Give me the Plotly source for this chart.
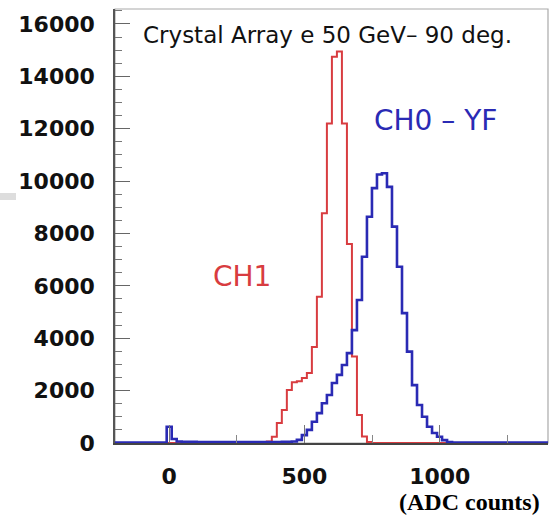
import plotly.graph_objects as go

# Histogram binning (ADC counts)
bin_start = -212.5
bin_width = 18.5

# CH0 - YF (blue) bin contents
blue_counts = [
    20, 20, 20, 20, 20, 20, 20, 20, 20, 20, 20,
    620, 150, 60, 50, 45, 45, 40, 40, 40, 35,
    35, 35, 35, 35, 35, 35, 35, 35, 35, 40,
    40, 40, 40, 45, 50, 60, 120, 300, 500, 810,
    1140, 1520, 1830, 2290, 2600, 2980, 3430, 4310, 5460, 7110,
    8640, 9730, 10250, 10300, 9780, 8260, 6730, 4960, 3490, 2210,
    1450, 1000, 620, 380, 240, 110, 40, 20, 15, 15,
    15, 15, 15, 15, 15, 15, 15, 15, 15, 15,
    15, 15, 15, 15, 15, 15, 15,
]

# CH1 (red) bin contents
red_counts = [
    0, 0, 0, 0, 0, 0, 0, 0, 0, 0, 0,
    0, 0, 0, 0, 0, 0, 0, 0, 0, 0,
    0, 0, 0, 0, 0, 0, 0, 0, 0, 0,
    60, 240, 760, 1260, 2020, 2320, 2360, 2480, 2670, 3670,
    5580, 8770, 12200, 14750, 14950, 12200, 7600, 3300, 1070, 250,
    40, 0, 0, 0, 0, 0, 0, 0, 0, 0,
    0, 0, 0, 0, 0, 0, 0, 0, 0, 0,
    0, 0, 0, 0, 0, 0, 0, 0, 0, 0,
    0, 0, 0, 0, 0, 0, 0,
]

x_tick_vals = [0, 500, 1000]
x_tick_text = ["0", "500", "1000"]
y_tick_vals = [0, 2000, 4000, 6000, 8000, 10000, 12000, 14000, 16000]
y_tick_text = ["0", "2000", "4000", "6000", "8000", "10000", "12000", "14000", "16000"]

title_text = "Crystal Array e 50 GeV\u2013 90 deg."
blue_label = "CH0 \u2013 YF"
red_label = "CH1"
x_label = "(ADC counts)"


def step_xy(counts):
    edges = [bin_start + i * bin_width for i in range(len(counts) + 1)]
    return edges, list(counts) + [counts[-1]]


fig = go.Figure()
rx, ry = step_xy(red_counts)
bx, by = step_xy(blue_counts)
fig.add_trace(go.Scatter(x=rx, y=ry, mode="lines", line_shape="hv",
                         line=dict(color="#d83c40", width=2), hoverinfo="skip"))
fig.add_trace(go.Scatter(x=bx, y=by, mode="lines", line_shape="hv",
                         line=dict(color="#2a2ab4", width=2.6), hoverinfo="skip"))

tickfont = dict(family="DejaVu Sans", size=22, color="#111", weight="bold")

fig.update_layout(
    width=551, height=515,
    margin=dict(l=115, r=3, t=9, b=72),
    paper_bgcolor="white", plot_bgcolor="white",
    showlegend=False,
    xaxis=dict(range=[-200, 1400], tickvals=x_tick_vals, ticktext=x_tick_text,
               ticks="inside", ticklen=18,
               tickcolor="#777", tickwidth=1, showline=True, linecolor="#444", linewidth=1.5,
               showgrid=False, zeroline=False, tickfont=tickfont, ticklabelstandoff=13,
               minor=dict(dtick=250, ticks="inside", ticklen=8, tickcolor="#888")),
    yaxis=dict(range=[0, 16570], tickvals=y_tick_vals, ticktext=y_tick_text,
               ticks="inside", ticklen=15,
               tickcolor="#666", tickwidth=1, showline=True, linecolor="#555", linewidth=1.5,
               showgrid=False, zeroline=False, tickfont=tickfont, ticklabelstandoff=14,
               minor=dict(dtick=500, ticks="inside", ticklen=7, tickcolor="#777")),
    shapes=[
        dict(type="rect", xref="paper", yref="paper", x0=0, x1=1, y0=0, y1=1,
             line=dict(color="#aaaaaa", width=1.2), layer="below"),
        dict(type="rect", xref="paper", yref="paper",
             x0=-115 / 433, x1=-99 / 433, y0=243 / 434, y1=250 / 434,
             line=dict(width=0), fillcolor="#dddddd", layer="below"),
    ],
    annotations=[
        dict(text=title_text, xref="paper", yref="paper", x=0.06, y=0.94,
             xanchor="left", yanchor="middle", showarrow=False,
             font=dict(family="DejaVu Sans", size=23, color="#111")),
        dict(text=blue_label, xref="paper", yref="paper", x=0.593, y=0.744,
             xanchor="left", yanchor="middle", showarrow=False,
             font=dict(family="DejaVu Sans", size=28, color="#2a2ab4")),
        dict(text=red_label, xref="paper", yref="paper", x=0.365, y=0.3825,
             xanchor="right", yanchor="middle", showarrow=False,
             font=dict(family="DejaVu Sans", size=28, color="#d83c40")),
        dict(text=x_label, xref="paper", yref="paper", x=0.986, y=-0.136,
             xanchor="right", yanchor="middle", showarrow=False,
             font=dict(family="Liberation Serif", size=24, color="#000", weight="bold")),
    ],
)

fig.write_html("out.html")
